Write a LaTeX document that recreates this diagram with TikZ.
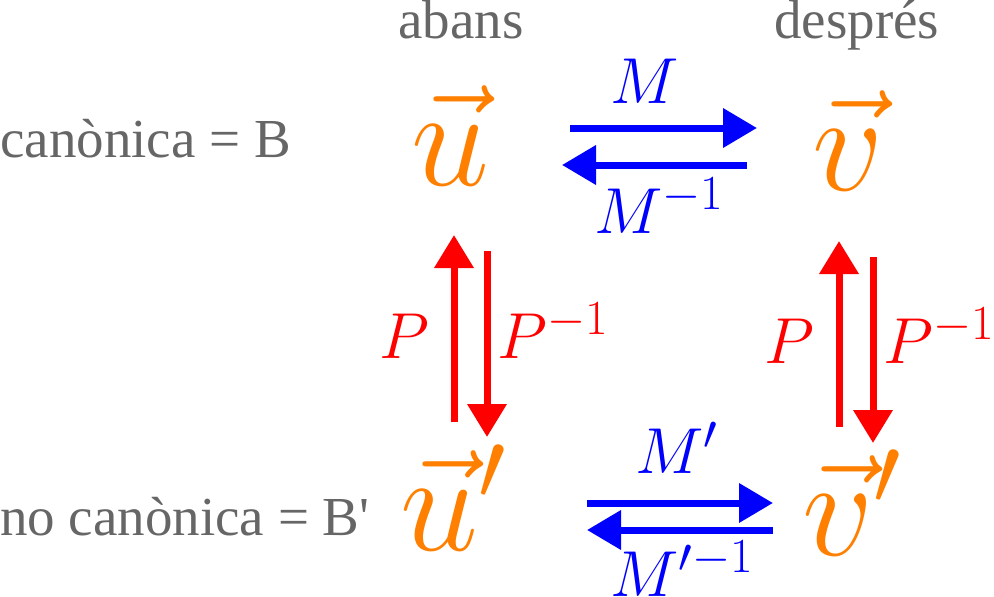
\RequirePackage{fix-cm}
\documentclass[tikz,border=0pt]{standalone}
\usepackage[no-math]{fontspec}
\newfontfamily\grayfont{Liberation Serif}
\usetikzlibrary{arrows.meta}
\DeclareMathSizes{65}{65}{49}{38}
\definecolor{vecor}{RGB}{255,127,0}
\definecolor{txtgray}{RGB}{102,102,102}
\tikzset{
  graytxt/.style={inner sep=0pt,text=txtgray,font=\grayfont\fontsize{55}{55}\selectfont},
  vecnode/.style={inner sep=0pt,text=vecor,font=\fontsize{140}{140}\selectfont},
  lbl/.style={inner sep=0pt,font=\fontsize{65}{65}\selectfont},
  bluearrow/.style={draw=blue,line width=7pt,-{Triangle[length=34pt,width=38pt]}},
  redarrow/.style={draw=red,line width=7pt,-{Triangle[length=33pt,width=38pt]}}
}
\begin{document}
\begin{tikzpicture}[x=1pt,y=-1pt]
\useasboundingbox (0,0) rectangle (994,597);
% gray texts
\node[graytxt,anchor=base west] (abans) at (398,38) {abans};
\node[graytxt,anchor=base west] (despres) at (774,38) {després};
\node[graytxt,anchor=base west] (can) at (0,157) {canònica = B};
\node[graytxt,anchor=base west] (nocan) at (0,535) {no canònica = B'};
% vectors
\node[vecnode,anchor=base west] (u) at (411,185) {$\vec{u}$};
\node[vecnode,anchor=base west] (v) at (812,190) {$\vec{v}$};
\node[vecnode,anchor=base west] (up) at (400,550) {$\vec{u}'$};
\node[vecnode,anchor=base west] (vp) at (802,555) {$\vec{v}'$};
% blue arrows
\coordinate (b1s) at (570,128); \coordinate (b1e) at (757,128);
\coordinate (b2s) at (747,165); \coordinate (b2e) at (562,165);
\coordinate (b3s) at (587,503); \coordinate (b3e) at (773,503);
\coordinate (b4s) at (773,530); \coordinate (b4e) at (587,530);
\draw[bluearrow] (b1s) -- (b1e);
\draw[bluearrow] (b2s) -- (b2e);
\draw[bluearrow] (b3s) -- (b3e);
\draw[bluearrow] (b4s) -- (b4e);
% red arrows
\coordinate (r1s) at (454,422); \coordinate (r1e) at (454,235);
\coordinate (r2s) at (487,251); \coordinate (r2e) at (487,437);
\coordinate (r3s) at (839,427); \coordinate (r3e) at (839,241);
\coordinate (r4s) at (873,257); \coordinate (r4e) at (873,443);
\draw[redarrow] (r1s) -- (r1e);
\draw[redarrow] (r2s) -- (r2e);
\draw[redarrow] (r3s) -- (r3e);
\draw[redarrow] (r4s) -- (r4e);
% labels
\node[lbl,text=blue,anchor=base west] (M) at (610,103) {$M$};
\node[lbl,text=blue,anchor=base west] (Mi) at (594,233) {$M^{-1}$};
\node[lbl,text=blue,anchor=base west] (Mp) at (635,473) {$M'$};
\node[lbl,text=blue,anchor=base west] (Mpi) at (610,596) {$M'^{-1}$};
\node[lbl,text=red,anchor=base west] (P1) at (379,358) {$P$};
\node[lbl,text=red,anchor=base west] (P1i) at (497,358) {$P^{-1}$};
\node[lbl,text=red,anchor=base west] (P2) at (764,363) {$P$};
\node[lbl,text=red,anchor=base west] (P2i) at (883,363) {$P^{-1}$};
\end{tikzpicture}
\end{document}
